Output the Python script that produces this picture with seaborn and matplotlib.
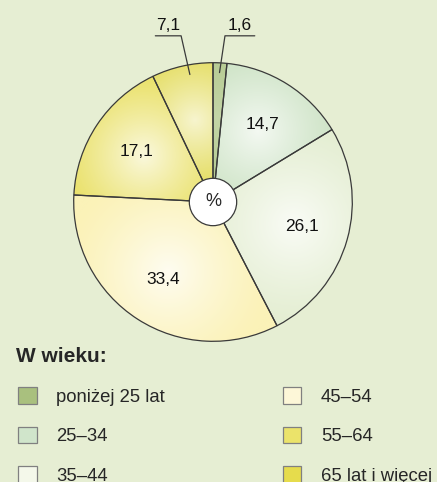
import numpy as np
import matplotlib
matplotlib.use("Agg")
import matplotlib.pyplot as plt
import seaborn as sns
from matplotlib.colors import to_rgb

# --- Datos ---
age_groups = ['poniżej 25 lat', '25–34', '35–44', '45–54', '55–64', '65 lat i więcej']
shares = [1.6, 14.7, 26.1, 33.4, 17.1, 7.1]
share_labels = ['1,6', '14,7', '26,1', '33,4', '17,1', '7,1']
legend_title = 'W wieku:'

# --- Estilo ---
bg = '#e6eed3'
slice_colors = ['#b0c78a', '#c6dfbd', '#e4eed2', '#fbf2b8', '#e7dd55', '#ded53c']
glow = [0.25, 0.8, 0.8, 0.8, 0.8, 0.75]
legend_colors = ['#a9c07e', '#d0e5cb', '#f4f8ea', '#fdf7d8', '#ebe36a', '#e6dc4c']
edge = '#3a3a3a'

sns.set_theme(style='white')
plt.rcParams['font.family'] = ['Liberation Sans', 'DejaVu Sans']

fig = plt.figure(figsize=(4.37, 4.82), dpi=100, facecolor=bg)
ax = fig.add_axes([73 / 437, (482 - 342) / 482, 280 / 437, 280 / 482])
ax.set_facecolor(bg)

wedges, _ = ax.pie(shares, colors=slice_colors, startangle=90, counterclock=False,
                   wedgeprops=dict(linewidth=0))

# gradiente radial (brillo blanco en el centro de cada sector)
xs = np.linspace(-1, 1, 500)
xx, yy = np.meshgrid(xs, xs)
for w, col, g in zip(wedges, slice_colors, glow):
    mid = np.deg2rad((w.theta1 + w.theta2) / 2)
    cx, cy = 0.6 * np.cos(mid), 0.6 * np.sin(mid)
    d = np.hypot(xx - cx, yy - cy)
    f = np.clip(1 - d / 0.75, 0, 1) ** 1.3 * g
    base = np.array(to_rgb(col))
    img = base[None, None, :] * (1 - f[..., None]) + f[..., None]
    im = ax.imshow(img, extent=(-1, 1, -1, 1), origin='lower', zorder=2)
    im.set_clip_path(w)

# contornos
ax.pie(shares, startangle=90, counterclock=False,
       wedgeprops=dict(fill=False, edgecolor=edge, linewidth=0.9, zorder=3))

# etiquetas
for w, lab, val in zip(wedges, share_labels, shares):
    mid = np.deg2rad((w.theta1 + w.theta2) / 2)
    if val > 10:
        ax.text(0.66 * np.cos(mid), 0.66 * np.sin(mid), lab, ha='center', va='center',
                fontsize=12.5, color='#111111', zorder=6)

# sectores pequeños con línea guía
small = {0: (0.086, 0.30), 5: (-0.229, -0.414)}
for i, (xe, xend) in small.items():
    w = wedges[i]
    mid = np.deg2rad((w.theta1 + w.theta2) / 2 + (-2.5 if i == 5 else 0))
    x0, y0 = 0.93 * np.cos(mid), 0.93 * np.sin(mid)
    ax.plot([x0, xe, xend], [y0, 1.193, 1.193], color=edge, lw=0.9, clip_on=False, zorder=6)
    ax.text((xe + xend) / 2, 1.21, share_labels[i], ha='center', va='bottom',
            fontsize=12.5, color='#111111', clip_on=False)

ax.add_patch(plt.Circle((0, 0), 0.17, fc='white', ec=edge, lw=0.9, zorder=5))
ax.text(0, 0, '%', ha='center', va='center', fontsize=13, zorder=6)
ax.set_xlim(-1.005, 1.005)
ax.set_ylim(-1.005, 1.005)
ax.set_aspect('equal')
ax.axis('off')

# --- Leyenda ---
fig.text(16 / 437, 1 - 357 / 482, legend_title, fontsize=15, fontweight='bold',
         ha='left', va='center')
handles = [plt.Rectangle((0, 0), 1, 1, fc=c, ec='#808080', lw=0.9) for c in legend_colors]
fig.legend(handles, age_groups, loc='upper left', bbox_to_anchor=(11 / 437, 1 - 380 / 482),
           ncol=2, frameon=False, fontsize=13.3, handlelength=1.0, handleheight=1.0,
           handletextpad=1.05, labelspacing=1.13, columnspacing=6.38, borderaxespad=0)

fig.savefig('out.png', dpi=100, facecolor=bg)
